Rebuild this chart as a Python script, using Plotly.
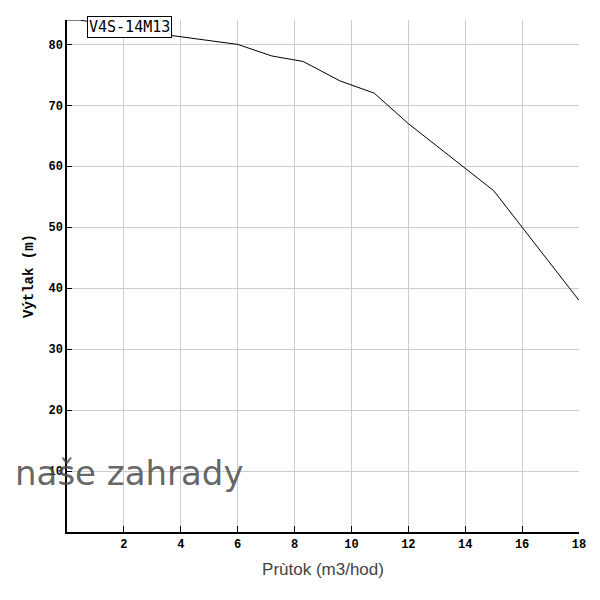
import plotly.graph_objects as go

flow = [0, 0.45, 3.6, 6.0, 7.2, 8.3, 9.6, 10.8, 12.0, 15.0, 18.0]
head = [84, 84, 81.5, 80.0, 78.1, 77.2, 74.0, 72.0, 67.0, 56.0, 38.0]
x_ticks = [2, 4, 6, 8, 10, 12, 14, 16, 18]
y_ticks = [10, 20, 30, 40, 50, 60, 70, 80]
series_name = "V4S-14M13"

fig = go.Figure()
fig.add_trace(go.Scatter(x=flow, y=head, mode="lines",
                         line=dict(color="black", width=1), name=series_name,
                         showlegend=False))

tickfont = dict(family="Liberation Mono", size=12, color="black", weight="bold")
fig.update_layout(
    width=600, height=600,
    margin=dict(l=59, r=29, t=12, b=76),
    paper_bgcolor="white", plot_bgcolor="white",
    xaxis=dict(range=[0, 18], tickvals=x_ticks, ticks="inside", ticklen=6,
               tickcolor="black", showline=True, linecolor="black", linewidth=1.5,
               showgrid=True, gridcolor="#cccccc", gridwidth=1, zeroline=False,
               tickfont=tickfont,
               title=dict(text="Prùtok (m3/hod)", standoff=12,
                          font=dict(family="Liberation Sans", size=17, color="#444"))),
    yaxis=dict(range=[0, 84], tickvals=y_ticks, ticks="inside", ticklen=5,
               tickcolor="black", showline=True, linecolor="black", linewidth=1.5,
               showgrid=True, gridcolor="#cccccc", gridwidth=1, zeroline=False,
               tickfont=tickfont,
               title=dict(text="Výtlak (m)", standoff=12,
                          font=dict(family="Liberation Mono", size=14, color="black", weight="bold"))),
)
fig.add_annotation(xref="paper", yref="paper", x=0.039, y=1.0, xanchor="left", yanchor="top",
                   yshift=4, text=series_name, showarrow=False,
                   font=dict(family="DejaVu Sans Mono", size=15, color="black"),
                   bgcolor="white", bordercolor="black", borderwidth=1, borderpad=1)
fig.add_annotation(xref="paper", yref="paper", x=-0.106, y=0.115, xanchor="left", yanchor="middle",
                   text="naše zahrady", showarrow=False,
                   font=dict(family="DejaVu Sans", size=34, color="rgba(75,75,75,0.85)"))
fig.write_html("out.html")
